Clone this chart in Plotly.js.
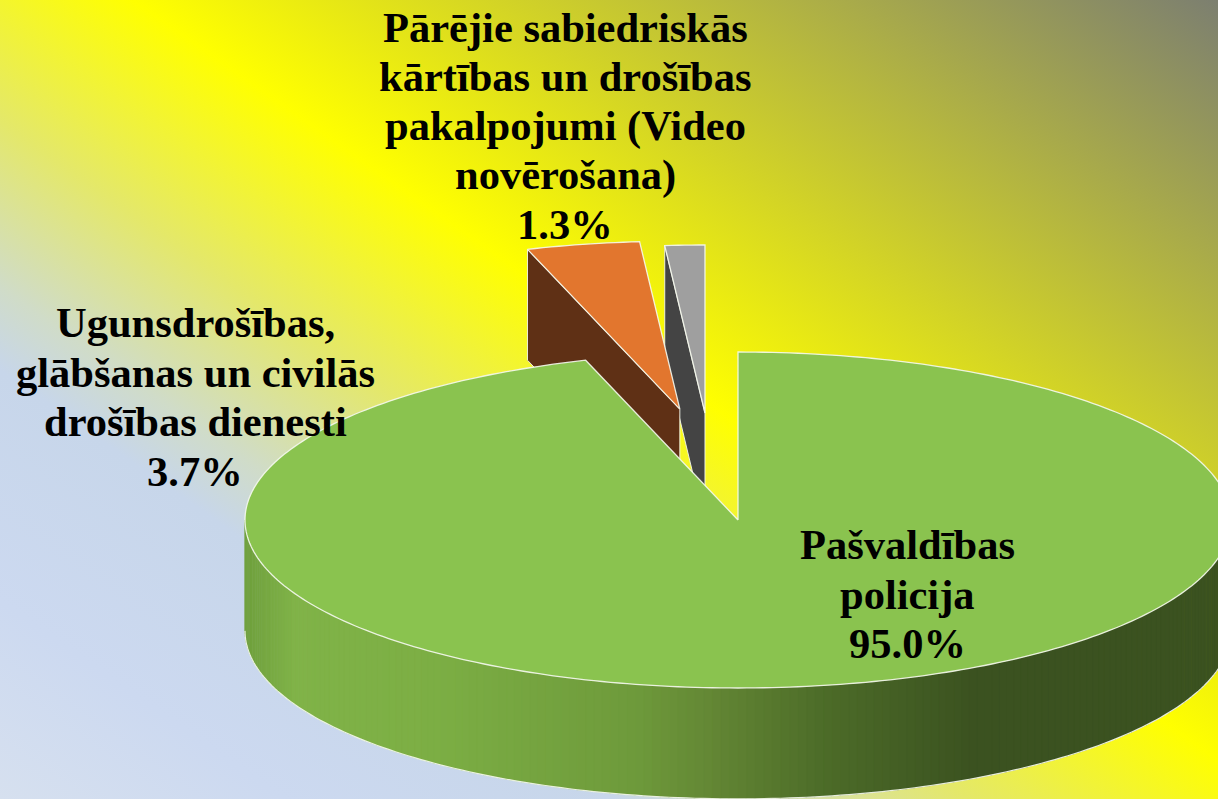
<!DOCTYPE html>
<html>
<head>
<meta charset="utf-8">
<script src="https://cdn.plot.ly/plotly-3.0.1.min.js"></script>
<style>
html,body{margin:0;padding:0;width:1218px;height:799px;overflow:hidden;
background:linear-gradient(35deg,#d6e0ef 0%,#ccd9f0 12%,#c7d6ea 26%,#d0dcc8 31%,#e4e86a 41%,#ffff00 54%,#7c7f70 100%);}
#chart{width:1218px;height:799px;}
</style>
</head>
<body>
<div id="chart"></div>
<script>
// Data
const categories = [
  ["Pašvaldības", "policija"],
  ["Ugunsdrošības,", "glābšanas un civilās", "drošības dienesti"],
  ["Pārējie sabiedriskās", "kārtības un drošības", "pakalpojumi (Video", "novērošana)"]
];
const shares = [95.0, 3.7, 1.3];

// Styling of the slices
const topColors  = ["#8ac34f", "#e2762e", "#9f9f9f"];
const sideColors = ["#7eb143", "#5f3015", "#444444"];
const explodeX = [0, -0.118, -0.067];
const explodeY = [0, 0.66, 0.637];
const labelPx = [[907, 594], [195, 397], [565, 126]];
const labelLineStep = 49.4;

// Projection: one pie radius = 493 px across, 168 px deep, wall 0.66 radii high
const cx = 738, cy = 520, rx = 493, ry = 168, W = 1218, H = 799, depth = 0.66;
const edge = "rgba(245,248,238,0.9)";
const rad = d => d * Math.PI / 180;
const px = t => Math.sin(rad(t));
const py = t => Math.cos(rad(t));

const total = shares.reduce((a, b) => a + b, 0);
let acc = 0;
const slices = shares.map((v, i) => {
  const s = { from: acc, to: acc + v / total * 360, ox: explodeX[i], oy: explodeY[i], i };
  acc = s.to;
  return s;
});

function poly(xs, ys, fill, line, width) {
  return { type: "scatter", mode: "lines", x: xs, y: ys, fill: "toself", fillcolor: fill,
    line: { color: line, width: width, simplify: false }, hoverinfo: "skip", showlegend: false };
}
function topFace(s) {
  const xs = [s.ox], ys = [s.oy];
  const n = Math.max(6, Math.ceil(s.to - s.from));
  for (let k = 0; k <= n; k++) {
    const t = s.from + (s.to - s.from) * k / n;
    xs.push(s.ox + px(t)); ys.push(s.oy + py(t));
  }
  xs.push(s.ox); ys.push(s.oy);
  return poly(xs, ys, topColors[s.i], edge, 1.3);
}
function innerWall(s) {
  const ex = s.ox + px(s.from), ey = s.oy + py(s.from);
  return poly(
    [ex, s.ox, s.ox, ex, ex],
    [ey, s.oy, s.oy - depth, ey - depth, ey],
    sideColors[s.i], edge, 1);
}

// Wall gradient of the big slice, left to right
const wallStops = [
  [-1.00, [112, 160, 62]], [-0.90, [128, 179, 72]], [-0.61, [124, 174, 68]],
  [-0.21, [110, 154, 59]], [-0.065, [100, 136, 53]], [0.18, [76, 107, 40]],
  [0.477, [59, 82, 32]], [1.00, [59, 82, 32]]
];
function wallColor(x) {
  for (let k = 1; k < wallStops.length; k++) {
    if (x <= wallStops[k][0]) {
      const [a, ca] = wallStops[k - 1], [b, cb] = wallStops[k];
      const f = (x - a) / (b - a);
      const c = ca.map((v, j) => Math.round(v + (cb[j] - v) * f));
      return `rgb(${c[0]},${c[1]},${c[2]})`;
    }
  }
  return "rgb(59,82,32)";
}

const traces = [];
const grey = slices[2], orange = slices[1], green = slices[0];

// Exploded slices, far one first: inner wall, then top face
traces.push(innerWall(grey), topFace(grey));
traces.push(innerWall(orange), topFace(orange));

// Outer wall of the big slice, front half only
for (let t = 90; t < 270; t += 1) {
  const a = t, b = Math.min(270, t + 1.15);
  const col = wallColor(px(t + 0.5));
  traces.push(poly(
    [px(a), px(b), px(b), px(a), px(a)],
    [py(a), py(b), py(b) - depth, py(a) - depth, py(a)],
    col, col, 0.5));
}
{
  const xs = [], ys = [];
  for (let t = 90; t <= 270; t += 1) { xs.push(px(t)); ys.push(py(t) - depth); }
  traces.push({ type: "scatter", mode: "lines", x: xs, y: ys,
    line: { color: edge, width: 1.2, simplify: false }, hoverinfo: "skip", showlegend: false });
}
traces.push(topFace(green));

// One annotation per text line: the reference leading is tighter than Plotly's
const annotations = [];
categories.forEach((lines, i) => {
  const all = lines.concat([shares[i].toFixed(1) + "%"]);
  all.forEach((line, k) => {
    const yPx = labelPx[i][1] + (k - (all.length - 1) / 2) * labelLineStep;
    annotations.push({
      xref: "paper", yref: "paper",
      x: labelPx[i][0] / W, y: 1 - yPx / H,
      xanchor: "center", yanchor: "middle", align: "center", showarrow: false,
      text: line,
      font: { family: "'Liberation Serif', serif", size: 42.5, weight: 700, color: "#000000" }
    });
  });
});

const layout = {
  width: W, height: H,
  margin: { l: 0, r: 0, t: 0, b: 0, pad: 0 },
  paper_bgcolor: "rgba(0,0,0,0)", plot_bgcolor: "rgba(0,0,0,0)",
  showlegend: false,
  xaxis: { range: [-cx / rx, (W - cx) / rx], visible: false, fixedrange: true },
  yaxis: { range: [(cy - H) / ry, cy / ry], visible: false, fixedrange: true },
  annotations: annotations
};
Plotly.newPlot("chart", traces, layout, { displayModeBar: false, staticPlot: true });
</script>
</body>
</html>
